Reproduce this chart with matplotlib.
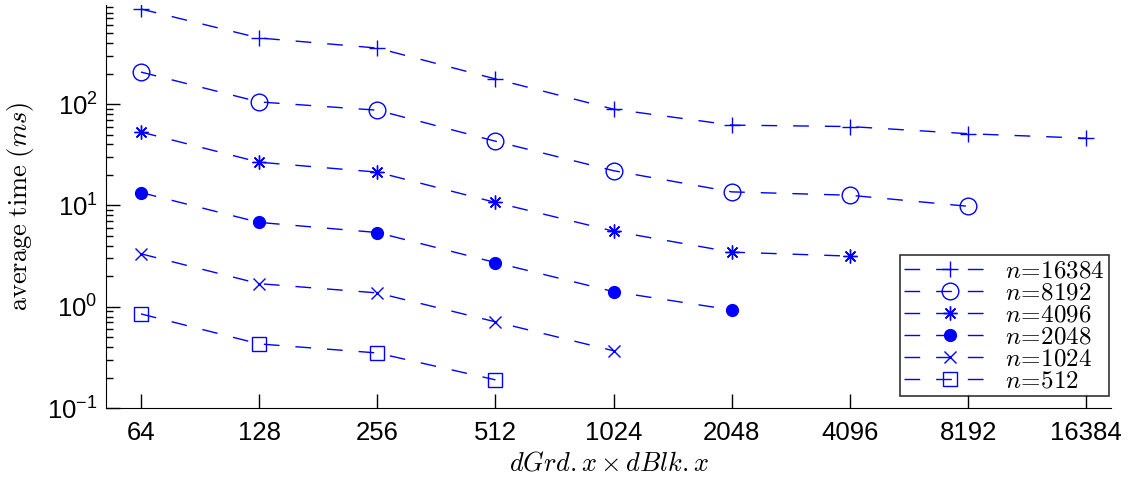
import numpy as np
import matplotlib
matplotlib.use("Agg")
import matplotlib.pyplot as plt
from matplotlib.ticker import FixedLocator, NullFormatter, LogLocator

plt.rcParams["font.family"] = ["Liberation Sans", "DejaVu Sans"]
plt.rcParams["mathtext.fontset"] = "cm"

# dGrd.x * dBlk.x
sizes = [64, 128, 256, 512, 1024, 2048, 4096, 8192, 16384]

t_16384 = [867, 449, 357, 177, 89, 62, 60, 51, 46]
t_8192 = [207, 105, 87, 43, 22, 13.6, 12.6, 9.8]
t_4096 = [53, 26.7, 21.3, 10.7, 5.57, 3.46, 3.16]
t_2048 = [13.4, 6.8, 5.4, 2.73, 1.41, 0.93]
t_1024 = [3.33, 1.69, 1.37, 0.71, 0.368]
t_512 = [0.85, 0.43, 0.35, 0.19]

series = [
    ("16384", t_16384, "+", "none", 11),
    ("8192", t_8192, "o", "none", 12),
    ("4096", t_4096, (8, 2, 0), "none", 10),
    ("2048", t_2048, "o", "blue", 8.5),
    ("1024", t_1024, "x", "none", 8),
    ("512", t_512, "s", "none", 9.5),
]

fig = plt.figure(figsize=(11.32, 4.79), dpi=100)
ax = fig.add_axes([0.0936, 0.148, 0.888, 0.8416])

for n, vals, mk, fc, ms in series:
    ax.plot(sizes[:len(vals)], vals, color="blue", linestyle=(0, (11.3, 11.5)),
            linewidth=1.0, marker=mk, markersize=ms, markerfacecolor=fc,
            markeredgecolor="blue", markeredgewidth=1.0,
            label=r"$n\!=\!%s$" % n)

ax.set_xscale("log", base=2)
ax.set_yscale("log")
ax.set_xlim(2 ** 5.704, 2 ** 14.21)
ax.set_ylim(0.1, 950)
ax.xaxis.set_major_locator(FixedLocator(sizes))
ax.set_xticklabels([str(s) for s in sizes])
ax.xaxis.set_minor_locator(FixedLocator([]))
ax.yaxis.set_major_locator(LogLocator(base=10, numticks=10))
ax.yaxis.set_minor_locator(LogLocator(base=10, subs=np.arange(2, 10), numticks=20))
ax.yaxis.set_minor_formatter(NullFormatter())

ax.spines["top"].set_visible(False)
ax.spines["right"].set_visible(False)
ax.tick_params(which="both", direction="in", labelsize=18.5)
ax.tick_params(which="major", length=10, width=1)
ax.tick_params(which="minor", length=5, width=1)
ax.tick_params(axis="x", pad=9)
ax.tick_params(axis="y", pad=6)

ax.set_xlabel(r"$dGrd.x \times dBlk.x$", fontsize=19, labelpad=5)
ax.set_ylabel(r"$\mathrm{average\ time\ }(ms)$", fontsize=19, labelpad=8)

leg = ax.legend(loc="lower right", bbox_to_anchor=(0.9975, 0.03), fontsize=18,
                frameon=True, fancybox=False, edgecolor="black",
                handlelength=3.7, labelspacing=-0.08, borderpad=0.15,
                handletextpad=0.35, borderaxespad=0)
leg.get_frame().set_linewidth(1.2)

fig.savefig("out.png", dpi=100)
